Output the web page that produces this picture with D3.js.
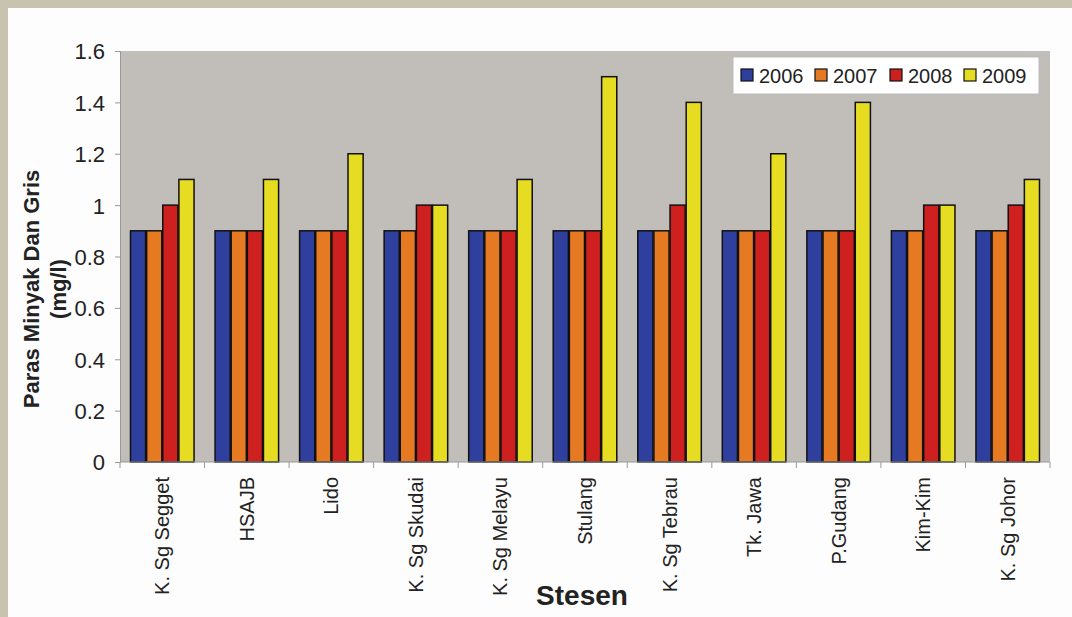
<!DOCTYPE html>
<html><head><meta charset="utf-8">
<script src="https://cdn.jsdelivr.net/npm/d3@7"></script>
<style>body{margin:0;background:#c8c3ae;}svg{display:block;}</style>
</head><body>
<svg id="c" width="1072" height="617"></svg>
<script>
const categories = ["K. Sg Segget","HSAJB","Lido","K. Sg Skudai","K. Sg Melayu","Stulang","K. Sg Tebrau","Tk. Jawa","P.Gudang","Kim-Kim","K. Sg Johor"];
const seriesNames = ["2006","2007","2008","2009"];
const v2006 = [0.9,0.9,0.9,0.9,0.9,0.9,0.9,0.9,0.9,0.9,0.9];
const v2007 = [0.9,0.9,0.9,0.9,0.9,0.9,0.9,0.9,0.9,0.9,0.9];
const v2008 = [1.0,0.9,0.9,1.0,0.9,0.9,1.0,0.9,0.9,1.0,1.0];
const v2009 = [1.1,1.1,1.2,1.0,1.1,1.5,1.4,1.2,1.4,1.0,1.1];
const yTicks = [0,0.2,0.4,0.6,0.8,1,1.2,1.4,1.6];
const colors = ["#2f3f9e","#e57a22","#cf2020","#e6dc22"];

const FONT = "Arial, 'Liberation Sans', sans-serif";
const series = [v2006,v2007,v2008,v2009];
const svg = d3.select("#c");
svg.append("rect").attr("x",8).attr("y",8).attr("width",1064).attr("height",609).attr("fill","#fdfdfd");

const L=120,R=1050,T=51,B=462;
const x0 = d3.scaleBand().domain(categories).range([L,R]).padding(0);
const x1 = d3.scaleBand().domain(seriesNames).range([10, x0.bandwidth()-10]).padding(0);
const y = d3.scaleLinear().domain([0,1.6]).range([B,T]);

svg.append("rect").attr("x",L).attr("y",T).attr("width",R-L).attr("height",B-T).attr("fill","#c1bdb8");

const g = svg.append("g");
categories.forEach((c,i)=>{
  seriesNames.forEach((s,j)=>{
    const val = series[j][i];
    g.append("rect")
      .attr("x", x0(c)+x1(s)+0.5)
      .attr("y", y(val))
      .attr("width", x1.bandwidth()-1)
      .attr("height", B-y(val))
      .attr("fill", colors[j])
      .attr("stroke","#111").attr("stroke-width",1.5);
  });
});

// y axis
const ya = svg.append("g").attr("transform",`translate(${L},0)`)
  .call(d3.axisLeft(y).tickValues(yTicks).tickSize(5).tickPadding(10).tickFormat(d=>d3.format("")(d)));
ya.select(".domain").attr("stroke","#999");
ya.selectAll(".tick line").attr("stroke","#999");
ya.selectAll("text").attr("font-family",FONT).attr("font-size",22).attr("fill","#222").attr("dy","0.36em");

// x axis
const xa = svg.append("g").attr("transform",`translate(0,${B})`);
xa.append("line").attr("x1",L).attr("x2",R).attr("stroke","#999");
const bounds = d3.range(categories.length+1).map(i=>L+i*x0.bandwidth());
xa.selectAll("line.tk").data(bounds).enter().append("line").attr("class","tk")
  .attr("x1",d=>d).attr("x2",d=>d).attr("y1",0).attr("y2",6).attr("stroke","#999");
xa.selectAll("text").data(categories).enter().append("text")
  .attr("transform",d=>`translate(${x0(d)+x0.bandwidth()/2+7},15) rotate(-90)`)
  .attr("text-anchor","end")
  .attr("font-family",FONT).attr("font-size",20).attr("fill","#222")
  .text(d=>d);

// axis titles
svg.append("text").attr("x",582).attr("y",605).attr("text-anchor","middle")
  .attr("font-family",FONT).attr("font-weight","bold").attr("font-size",28).attr("fill","#222").text("Stesen");
const yt = svg.append("text").attr("transform","translate(0,289) rotate(-90)")
  .attr("text-anchor","middle").attr("font-family",FONT).attr("font-weight","bold").attr("font-size",22).attr("fill","#222");
yt.append("tspan").attr("x",0).attr("y",39).text("Paras Minyak Dan Gris");
yt.append("tspan").attr("x",0).attr("y",66).text("(mg/l)");

// legend
const lg = svg.append("g");
lg.append("rect").attr("x",733).attr("y",57).attr("width",306).attr("height",37).attr("fill","#fff").attr("stroke","#bbb");
const lx = [741,815,890,964];
seriesNames.forEach((s,j)=>{
  lg.append("rect").attr("x",lx[j]).attr("y",69).attr("width",12).attr("height",12).attr("fill",colors[j]).attr("stroke","#111").attr("stroke-width",1.2);
  lg.append("text").attr("x",lx[j]+18).attr("y",83).attr("font-family",FONT).attr("font-size",20).attr("fill","#222").text(s);
});
</script>
</body></html>
